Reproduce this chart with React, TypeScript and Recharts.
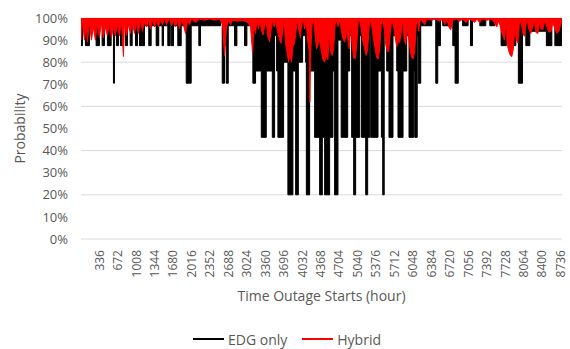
import React from 'react';
import { AreaChart, Area, XAxis, YAxis, CartesianGrid, Legend } from 'recharts';

// X axis tick labels (hour of year)
const hourTicks = [336, 672, 1008, 1344, 1680, 2016, 2352, 2688, 3024, 3360, 3696, 4032, 4368, 4704, 5040, 5376, 5712, 6048, 6384, 6720, 7056, 7392, 7728, 8064, 8400, 8736];
const probabilityTicks = [0, 0.1, 0.2, 0.3, 0.4, 0.5, 0.6, 0.7, 0.8, 0.9, 1];
const hoursInYear = 8760;
const fullProbability = 1;

// EDG only: periods (start hour, end hour) where probability drops, and the level reached
const edgDipStart = [0, 80, 275, 385, 481, 591, 645, 718, 809, 895, 992, 1065, 1156, 1234, 1278, 1369, 1416, 1478, 1502, 1581, 1643, 1685, 1763, 1825, 1916, 2007, 2146, 2177, 2572, 2614, 2645, 2682, 2797, 2839, 2979, 3021, 3130,
  3179, 3283, 3374, 3484, 3526, 3562, 3586, 3690, 3768, 3859, 3909, 3958, 4036, 4091, 4104, 4164, 4255, 4346, 4395, 4437, 4528, 4588, 4619, 4680, 4738, 4857, 4893, 4929, 4966, 5002, 5075, 5106, 5185, 5221, 5258, 5276, 5409, 5471, 5495, 5522, 5567, 5609, 5682, 5750, 5773, 5865, 5932, 5974, 6060, 6078, 6123, 6142, 6187,
  6461, 6497, 6588, 6771, 6813, 6948, 7093, 7263, 7445, 7651, 7864, 7965, 8101, 8193, 8475, 8630];
const edgDipEnd = [26, 153, 335, 427, 549, 609, 682, 755, 846, 932, 1028, 1156, 1234, 1278, 1369, 1416, 1478, 1502, 1581, 1624, 1685, 1763, 1825, 1916, 2007, 2146, 2177, 2541, 2614, 2645, 2682, 2797, 2839, 2979, 3021, 3130, 3179,
  3283, 3374, 3484, 3526, 3562, 3586, 3690, 3768, 3859, 3909, 3958, 4036, 4091, 4104, 4164, 4255, 4346, 4395, 4437, 4528, 4588, 4619, 4680, 4738, 4857, 4893, 4929, 4966, 5002, 5075, 5106, 5185, 5221, 5258, 5276, 5409, 5471, 5495, 5522, 5567, 5609, 5682, 5750, 5773, 5865, 5932, 5974, 6060, 6078, 6123, 6142, 6187, 6388,
  6497, 6546, 6734, 6813, 6871, 7050, 7130, 7372, 7536, 7746, 7919, 8041, 8174, 8466, 8575, 8752];
const edgDipValue = [0.875, 0.875, 0.875, 0.875, 0.875, 0.705, 0.875, 0.875, 0.875, 0.875, 0.875, 0.875, 0.965, 0.875, 0.965, 0.875, 0.965, 0.875, 0.965, 0.875, 0.875, 0.965, 0.875, 0.965, 0.705, 0.965, 0.875, 0.965, 0.705, 0.875, 0.705, 0.965, 0.875, 0.965, 0.875, 0.965, 0.705,
  0.76, 0.46, 0.76, 0.46, 0.92, 0.76, 0.46, 0.8, 0.2, 0.76, 0.2, 0.8, 0.92, 0.8, 0.2, 0.76, 0.46, 0.2, 0.46, 0.2, 0.46, 0.76, 0.2, 0.9, 0.46, 0.76, 0.92, 0.46, 0.2, 0.46, 0.92, 0.46, 0.2, 0.46, 0.92, 0.46, 0.76, 0.46, 0.2, 0.92, 0.76, 0.46, 0.92, 0.76, 0.46, 0.76, 0.92, 0.46, 0.76, 0.46, 0.92, 0.705, 0.965,
  0.705, 0.875, 0.965, 0.875, 0.705, 0.965, 0.875, 0.965, 0.965, 0.875, 0.875, 0.705, 0.875, 0.94, 0.875, 0.875];

// Hybrid: probability read at these hours
const hybridHours = [0, 26, 62, 98, 117, 153, 190, 226, 262, 299, 335, 372, 408, 445, 481, 518, 554, 591, 627, 663, 700, 736, 773, 791, 828, 864, 901, 937, 973, 1010, 1046, 1083, 1119, 1156, 1192, 1229, 1265, 1301, 1338, 1374, 1411, 1447, 1484, 1520, 1557, 1612, 1648, 1684, 1721, 1757, 1794, 1830, 1867, 1903, 1940, 1976, 2012, 2085, 2158, 2250, 2341, 2432, 2523, 2578, 2614, 2651, 2687, 2724, 2760, 2851, 2942, 3033, 3088, 3125, 3152, 3179,
  3206, 3234, 3261, 3289, 3316, 3343, 3371, 3398, 3435, 3466, 3489, 3517, 3544, 3580, 3617, 3644, 3677, 3699, 3726, 3754, 3781, 3808, 3836, 3859, 3881, 3908, 3936, 3963, 3996, 4018, 4045, 4073, 4100, 4127, 4155, 4167, 4182, 4209, 4237, 4264, 4291, 4319, 4346, 4377, 4410, 4437, 4464, 4497, 4519, 4546, 4574, 4601, 4628, 4656, 4683, 4711, 4738, 4765, 4802, 4833, 4862, 4884, 4911, 4938, 4966, 4993, 5020, 5048, 5075, 5103, 5130, 5166, 5194, 5221, 5248, 5276, 5303, 5330, 5358, 5385, 5412, 5440, 5467, 5495, 5522, 5549, 5577, 5604, 5631, 5659, 5695, 5723, 5750, 5777, 5804, 5835, 5859, 5886, 5914, 5941, 5968, 5996, 6023, 6050, 6078, 6105, 6133, 6151, 6169, 6187,
  6260, 6297, 6388, 6461, 6534, 6588, 6625, 6661, 6698, 6734, 6771, 6844, 6898, 6953, 7008, 7081, 7172, 7208, 7263, 7299, 7390, 7482, 7536, 7573, 7609, 7646, 7682, 7710, 7737, 7764, 7791, 7819, 7846, 7874, 7901, 7928, 7956, 7983, 8010, 8047, 8074, 8101, 8129, 8156, 8192, 8229, 8256, 8284, 8320, 8347, 8375, 8411, 8448, 8484, 8521, 8557, 8594, 8630, 8666, 8703, 8739, 8760];
const hybridValues = [0.9, 0.99, 0.9, 0.97, 0.89, 0.98, 0.9, 0.96, 0.9, 0.97, 0.91, 0.98, 0.91, 0.96, 0.92, 0.97, 0.91, 0.96, 0.92, 0.97, 0.92, 0.99, 0.826, 0.98, 0.92, 0.97, 0.93, 0.98, 0.93, 0.98, 0.93, 0.99, 0.94, 0.98, 0.96, 0.99, 0.95, 0.99, 0.96, 0.99, 0.96, 0.99, 0.97, 1.0, 0.97, 1.0, 0.965, 0.99, 0.96, 0.99, 0.95, 0.99, 0.97, 0.93, 0.99, 0.97, 0.995, 0.98, 0.995, 0.99, 0.995, 0.99, 0.995, 0.97, 0.83, 0.96, 0.99, 0.97, 0.99, 0.985, 0.99, 0.98, 0.96, 0.84, 0.96, 0.93,
  0.99, 0.95, 0.985, 0.94, 0.923, 0.96, 0.99, 0.92, 0.893, 0.95, 0.99, 0.96, 0.985, 0.94, 0.9, 0.885, 0.95, 0.99, 0.88, 0.84, 0.8, 0.83, 0.8, 0.87, 0.88, 0.92, 0.99, 0.95, 0.91, 0.97, 0.99, 0.95, 0.99, 0.9, 0.85, 0.62, 0.84, 0.97, 0.99, 0.92, 0.86, 0.88, 0.9, 0.85, 0.81, 0.8, 0.83, 0.81, 0.92, 0.85, 0.83, 0.86, 0.97, 0.99, 0.96, 0.99, 0.95, 0.91, 0.89, 0.94, 0.9, 0.86, 0.97, 0.88, 0.82, 0.815, 0.87, 0.98, 0.99, 0.95, 0.9, 0.86, 0.83, 0.86, 0.96, 0.99, 0.95, 0.9, 0.86, 0.82, 0.815, 0.86, 0.97, 0.99, 0.95, 0.88, 0.85, 0.847, 0.93, 0.99, 0.96, 0.91, 0.87, 0.89, 0.89, 0.94, 0.99, 0.9, 0.88, 0.95, 0.91, 0.85, 0.82, 0.815, 0.85, 0.97, 0.99, 0.94, 0.98, 0.995,
  0.97, 0.995, 0.99, 0.995, 0.985, 0.995, 0.97, 0.995, 0.96, 0.947, 0.99, 0.995, 0.985, 0.995, 0.98, 0.995, 0.98, 0.995, 0.978, 0.995, 0.99, 0.995, 0.975, 0.96, 0.99, 0.95, 0.92, 0.9, 0.97, 0.88, 0.85, 0.83, 0.826, 0.86, 0.95, 0.9, 0.887, 0.97, 0.99, 0.93, 0.917, 0.97, 0.99, 0.95, 0.93, 0.96, 0.99, 0.935, 0.93, 0.98, 0.95, 0.947, 0.99, 0.96, 0.935, 0.94, 0.98, 0.95, 0.93, 0.94, 0.97, 0.99];

// Build table for EDG only series from the dip periods
const edgData: { hour: number; p: number }[] = [{ hour: 0, p: fullProbability }];
let prevEnd = 0;
edgDipStart.forEach((s, i) => {
  if (s > prevEnd) {
    edgData.push({ hour: prevEnd, p: fullProbability });
    edgData.push({ hour: s, p: fullProbability });
  }
  edgData.push({ hour: s, p: edgDipValue[i] });
  edgData.push({ hour: edgDipEnd[i], p: edgDipValue[i] });
  prevEnd = edgDipEnd[i];
});
edgData.push({ hour: prevEnd, p: fullProbability });
edgData.push({ hour: hoursInYear, p: fullProbability });

const hybridData = hybridHours.map((h, i) => ({ hour: h, p: hybridValues[i] }));

const TEXT = '#595959';

const XTick = (props: any) => {
  const { x, y, payload } = props;
  return (
    <text x={x} y={y} transform={`rotate(-90, ${x}, ${y})`} textAnchor="end" dy="0.35em" fill={TEXT} fontSize={12}>
      {payload.value}
    </text>
  );
};

const renderLegend = (props: any) => {
  const { payload } = props;
  return (
    <div style={{ display: 'flex', justifyContent: 'center', alignItems: 'center', height: 20, fontSize: 14, color: TEXT, paddingLeft: 12 }}>
      {(payload || []).map((entry: any, i: number) => (
        <span key={i} style={{ display: 'inline-flex', alignItems: 'center', marginRight: i === 0 ? 15 : 0 }}>
          <span style={{ display: 'inline-block', width: 31, height: 2, background: entry.color, marginRight: 4 }} />
          {entry.value}
        </span>
      ))}
    </div>
  );
};

export default function App() {
  return (
    <div style={{ position: 'absolute', left: 0, top: 0, fontFamily: "'Open Sans', sans-serif" }}>
      <AreaChart width={570} height={349} margin={{ top: 18, right: 8, left: 0, bottom: 0 }}>
        <CartesianGrid vertical={false} stroke="#d9d9d9" strokeWidth={1} />
        <XAxis
          type="number"
          dataKey="hour"
          domain={[0, hoursInYear]}
          ticks={hourTicks}
          interval={0}
          tick={<XTick />}
          tickLine={false}
          axisLine={false}
          tickSize={0}
          tickMargin={11}
          height={90}
          allowDataOverflow
          label={{ value: 'Time Outage Starts (hour)', position: 'insideBottom', offset: 28, fill: TEXT, fontSize: 14 }}
        />
        <YAxis
          type="number"
          domain={[0, 1]}
          ticks={probabilityTicks}
          tickFormatter={(v: number) => `${Math.round(v * 100)}%`}
          tick={{ fill: TEXT, fontSize: 13 }}
          tickLine={false}
          axisLine={false}
          tickSize={0}
          tickMargin={13}
          width={81}
          allowDataOverflow
          label={{ value: 'Probability', angle: -90, position: 'insideLeft', offset: 20, fill: TEXT, fontSize: 14, style: { textAnchor: 'middle' } }}
        />
        <Area
          data={edgData}
          dataKey="p"
          name="EDG only"
          type="linear"
          stroke="#000000"
          strokeWidth={1}
          fill="#000000"
          fillOpacity={1}
          baseValue={1}
          dot={false}
          activeDot={false}
          legendType="line"
          isAnimationActive={false}
        />
        <Area
          data={hybridData}
          dataKey="p"
          name="Hybrid"
          type="linear"
          stroke="#ff0000"
          strokeWidth={1}
          fill="#ff0000"
          fillOpacity={1}
          baseValue={1}
          dot={false}
          activeDot={false}
          legendType="line"
          isAnimationActive={false}
        />
        <Legend verticalAlign="bottom" content={renderLegend} />
      </AreaChart>
    </div>
  );
}
